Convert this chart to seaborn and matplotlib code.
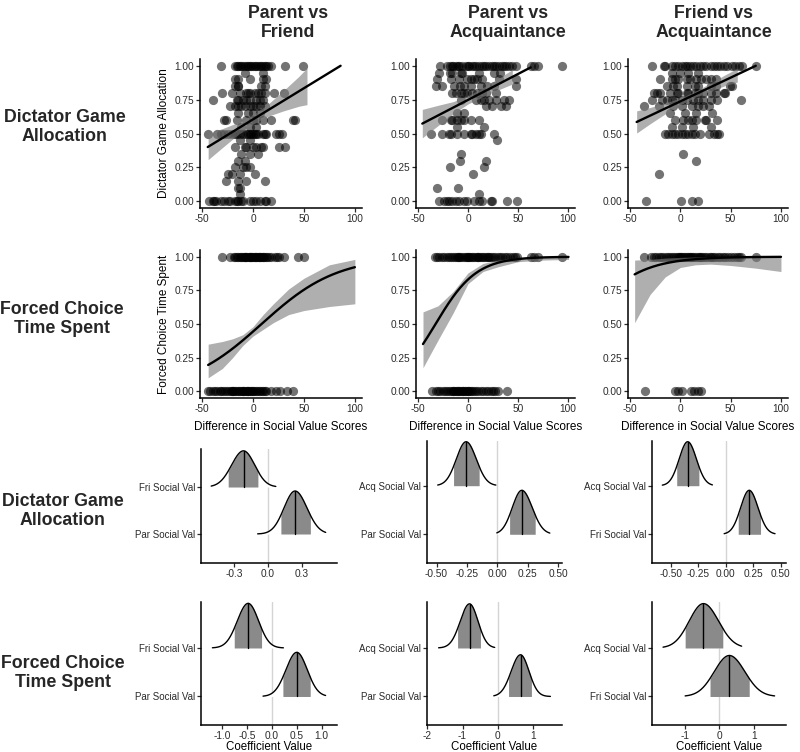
import numpy as np
import pandas as pd
import matplotlib
matplotlib.use("Agg")
import matplotlib.pyplot as plt
import seaborn as sns

sns.set_theme(style="ticks")
plt.rcParams['font.family'] = ['Liberation Sans', 'DejaVu Sans']

# ---------------- DATA ----------------
col_titles = ["Parent vs\nFriend", "Parent vs\nAcquaintance", "Friend vs\nAcquaintance"]
row_titles = ["Dictator Game\nAllocation", "Forced Choice\nTime Spent",
              "Dictator Game\nAllocation", "Forced Choice\nTime Spent"]

# Dictator game allocation vs difference in social value scores (points by allocation level)
dg_pf_points = {
    1.00: [-31, -18, -16, -15, -13, -11.5, -10, -8, -6, -5, -3, -1.6, 0, 1.6, 3, 5, 7, 8, 10, 11.5, 13, 15, 18, 31, 49],
    0.95: [-8, 10],
    0.90: [-18, -15, -3, 10, 13],
    0.85: [-18, -15, -15, 8, 11.5],
    0.80: [-30, -21, -13, -7, -5, -3, 1.6, 5, 8, 11.5, 21, 30],
    0.75: [-39, -16, -15, -10, -7, -3, 3, 7, 10],
    0.70: [-23, -18, -15, -11.5, -8, -3, 0, 3, 7, 11.5],
    0.65: [-15, -5, 0, 7],
    0.60: [-28, -26, -16, -7, 0, 3, 10, 18, 39, 41],
    0.55: [-11.5, -3, 3],
    0.50: [-44, -35, -31, -28, -25, -21, -18, -16, -13, -10, -7, -5, -3, -1.6, 0, 1.6, 3, 5, 10, 11.5, 13, 23, 26, 28],
    0.45: [-13, -3],
    0.40: [-18, -8, -7, 0, 3, 8, 10, 26, 31],
    0.35: [-11.5, -3, 5],
    0.30: [-15, -8],
    0.25: [-18, -10, -7, -3],
    0.20: [-25, -21, -13, 1.6],
    0.15: [-26, -15, -7, 11.5],
    0.10: [-15, -13],
    0.05: [-13],
    0.00: [-43, -39, -38, -36, -31, -28, -25, -23, -18, -16, -15, -11.5, -10, -3, 0, 3, 7, 11.5, 13, 18],
}
dg_pa_points = {
    1.00: [-28, -21, -18, -16, -15, -12, -10, -9, -6, -2, 0, 1, 4, 6, 8, 11, 14, 16, 18, 21, 24, 26, 28, 31, 34, 36, 38, 41, 44, 48, 63, 66, 70, 94],
    0.95: [-29, -18, -16, -7, -6, 11, 26, 32],
    0.90: [-31, -17, -9, -1, 3, 6, 9, 14, 31, 48],
    0.85: [-32, -26, -14, -8, -4, 3, 13, 19, 26, 48],
    0.80: [-16, -12, -7, -4, -1, 4, 9, 14, 18, 28],
    0.75: [-7, 8, 13, 16, 21, 28, 36, 41],
    0.70: [18, 24, 33, 38],
    0.65: [-11, -4],
    0.60: [-26, -17, -16, -11, -7, -4, 3, 11],
    0.55: [-11, 16],
    0.50: [-37, -26, -19, -17, -11, -4, 3, 4, 8, 11, 13, 26],
    0.45: [29],
    0.35: [-7],
    0.30: [-8, 18],
    0.25: [-18, 16],
    0.20: [5],
    0.10: [-31, -10],
    0.05: [11],
    0.00: [-29, -24, -21, -19, -16, -12, -9, -4, -1, 6, 11, 14, 23, 24, 39, 49],
}
dg_fa_points = {
    1.00: [-28, -16, -15, -8, -5, -2, 1.6, 5, 7, 10, 13, 16, 20, 23, 26, 30, 33, 36, 39, 43, 46, 51, 54, 58, 61, 75],
    0.95: [-8, 0, 8, 18],
    0.90: [-20, -8, -5, -2, 7, 10, 16, 21, 26, 30, 35],
    0.85: [-13, -7, -3, 7, 15, 18, 30, 35, 49, 51],
    0.80: [-26, -23, -20, -10, -3, -2, 7, 8, 15, 18, 23, 30, 35, 43, 44],
    0.75: [-28, -18, -13, -8, -5, 2, 7, 13, 18, 23, 30, 36, 60],
    0.70: [-36, -21, -7, 2, 12, 18, 23, 28],
    0.65: [-10, 5, 16, 31],
    0.60: [-5, 3, 8, 12, 16, 25, 26, 36],
    0.55: [-8, 2, 13, 30],
    0.50: [-15, -12, -8, -5, -2, 2, 5, 8, 12, 15, 20, 28, 33, 36, 38],
    0.35: [3],
    0.30: [16],
    0.20: [-21],
    0.00: [-34, 1, 12, 18],
}

# Linear fits (line end points) and confidence bands
dg_pf_line_x = [-44.4, 86.0]
dg_pf_line_y = [0.40, 1.00]
dg_pf_band_x = [-44, -30, -15, 0, 15, 30, 45, 53]
dg_pf_band_lo = [0.307, 0.396, 0.49, 0.569, 0.628, 0.667, 0.701, 0.713]
dg_pf_band_hi = [0.497, 0.536, 0.58, 0.639, 0.718, 0.817, 0.921, 0.983]

dg_pa_line_x = [-45.7, 62.7]
dg_pa_line_y = [0.573, 0.988]
dg_pa_band_x = [-45.7, -30, -15, 0, 15, 30, 44.3]
dg_pa_band_lo = [0.468, 0.558, 0.645, 0.718, 0.773, 0.821, 0.865]
dg_pa_band_hi = [0.678, 0.708, 0.735, 0.778, 0.839, 0.905, 0.971]

dg_fa_line_x = [-43.4, 75.0]
dg_fa_line_y = [0.585, 1.00]
dg_fa_band_x = [-43.4, -30, -15, 0, 15, 30, 45, 56.6]
dg_fa_band_lo = [0.503, 0.572, 0.645, 0.712, 0.768, 0.812, 0.855, 0.88]
dg_fa_band_hi = [0.667, 0.692, 0.725, 0.762, 0.812, 0.872, 0.935, 0.98]

# Forced choice (1 = chose first person, 0 = chose second)
fc_pf_one = [-30, -22.5, -19, -17.5, -16, -14.5, -13, -12, -10.5, -9, -8, -8, -7, -5.5, -4, -3, -3, -2, -0.5,
             0.5, 1.5, 2, 3, 4, 5.5, 6, 7, 8, 9.5, 10, 11, 12.5, 14, 16, 18, 21.5, 24, 26, 30, 44, 50]
fc_pf_zero = [-44, -42, -39, -37, -35, -32.5, -31, -29, -27, -25.5, -24, -22, -21, -20, -19.5, -18, -16.5, -15,
              -14, -12.5, -11, -10, -10, -8.5, -7, -6, -5, -4.5, -3, -2, -0.5, 0, 1, 2.5, 4, 5.5, 7, 8.5, 10,
              11.5, 13, 18, 23, 26.5, 33, 39.5]
fc_pa_one = [-33.5, -31, -29, -26.5, -24, -21, -19, -17.5, -15, -13, -11, -10, -9.5, -8, -6, -4, -2.5, -1, 0,
             0.5, 2, 3.5, 5, 7, 8.5, 10, 10, 12, 13.5, 15, 17, 19, 20, 21, 23, 25, 27, 29.5, 32, 34, 36.5, 39,
             42, 44.5, 47, 49, 62.5, 66, 70, 93.5]
fc_pa_zero = [-36, -32, -30, -28, -25.5, -23, -21, -19, -17, -15.5, -15, -14, -12.5, -11, -10, -9.5, -8, -6.5,
              -5, -5, -3.5, -2, -0.5, 0, 1, 2.5, 4, 6, 8, 10, 12.5, 15, 17.5, 20, 22.5, 25, 27, 29.5, 38.5]
fc_fa_one = [-36.5, -29, -26.5, -24, -21.5, -19, -17, -14.5, -12, -10, -8, -6, -4, -2.5, -1, 0, 0.5, 2, 3.5, 5,
             6.5, 8, 10, 10, 11.5, 13, 15, 17, 19, 20, 21, 23, 25, 27, 29.5, 30, 32, 34.5, 37, 39.5, 42, 44.5,
             47, 50, 53, 56, 58.5, 60.5, 75]
fc_fa_zero = [-35, -5.5, -2.5, 2, 11, 14, 17.5, 21]

# Logistic fits: intercept, slope, x range; confidence bands
fc_pf_coef = [-0.227, 0.027]
fc_pf_range = [-44, 100]
fc_pf_band_x = [-44, -30, -20, -10, 0, 10, 20, 35, 50, 75, 100]
fc_pf_band_lo = [0.10, 0.17, 0.25, 0.34, 0.41, 0.46, 0.51, 0.57, 0.60, 0.63, 0.65]
fc_pf_band_hi = [0.35, 0.37, 0.39, 0.42, 0.48, 0.57, 0.65, 0.76, 0.84, 0.94, 0.98]

fc_pa_coef = [1.59, 0.049]
fc_pa_range = [-45, 100.5]
fc_pa_band_x = [-45, -30, -15, 0, 15, 30, 50, 75, 100.5]
fc_pa_band_lo = [0.175, 0.38, 0.58, 0.80, 0.89, 0.925, 0.963, 0.975, 0.98]
fc_pa_band_hi = [0.59, 0.635, 0.74, 0.88, 0.95, 0.975, 0.993, 0.998, 1.0]

fc_fa_coef = [3.48, 0.035]
fc_fa_range = [-45.4, 100]
fc_fa_band_x = [-45.4, -30, -15, 0, 15, 30, 50, 75, 100]
fc_fa_band_lo = [0.51, 0.72, 0.85, 0.92, 0.94, 0.945, 0.935, 0.915, 0.89]
fc_fa_band_hi = [0.975, 0.98, 0.99, 0.995, 0.998, 0.999, 1.0, 1.0, 1.0]

# Posterior coefficient distributions (index 0 = lower row, index 1 = upper row)
rdg_pf_labels = ["Par Social Val", "Fri Social Val"]
rdg_pf_median = [0.24, -0.215]
rdg_pf_inner = [(0.115, 0.375), (-0.35, -0.088)]
rdg_pf_outer = [(-0.09, 0.51), (-0.50, 0.07)]
rdg_pf_height = [0.915, 0.77]

rdg_pa_labels = ["Par Social Val", "Acq Social Val"]
rdg_pa_median = [0.20, -0.257]
rdg_pa_inner = [(0.10, 0.31), (-0.36, -0.15)]
rdg_pa_outer = [(-0.005, 0.43), (-0.49, -0.013)]
rdg_pa_height = [0.905, 0.905]

rdg_fa_labels = ["Fri Social Val", "Acq Social Val"]
rdg_fa_median = [0.215, -0.345]
rdg_fa_inner = [(0.115, 0.318), (-0.445, -0.243)]
rdg_fa_outer = [(-0.013, 0.45), (-0.576, -0.12)]
rdg_fa_height = [0.905, 0.905]

rfc_pf_labels = ["Par Social Val", "Fri Social Val"]
rfc_pf_median = [0.50, -0.48]
rfc_pf_inner = [(0.22, 0.77), (-0.76, -0.21)]
rfc_pf_outer = [(-0.18, 1.08), (-1.20, 0.23)]
rfc_pf_height = [0.91, 0.92]

rfc_pa_labels = ["Par Social Val", "Acq Social Val"]
rfc_pa_median = [0.65, -0.80]
rfc_pa_inner = [(0.31, 0.96), (-1.14, -0.49)]
rfc_pa_outer = [(-0.11, 1.50), (-1.68, -0.085)]
rfc_pa_height = [0.86, 0.91]

rfc_fa_labels = ["Fri Social Val", "Acq Social Val"]
rfc_fa_median = [0.29, -0.46]
rfc_fa_inner = [(-0.27, 0.865), (-0.99, 0.10)]
rfc_fa_outer = [(-0.99, 1.60), (-1.63, 0.645)]
rfc_fa_height = [0.845, 0.915]

scatter_xticks = [-50, 0, 50, 100]
prob_yticks = [0.0, 0.25, 0.5, 0.75, 1.0]
ridge_xticks = [
    [[-0.3, 0.0, 0.3], [-0.5, -0.25, 0.0, 0.25, 0.5], [-0.5, -0.25, 0.0, 0.25, 0.5]],
    [[-1.0, -0.5, 0.0, 0.5, 1.0], [-2, -1, 0, 1], [-1, 0, 1]],
]
ridge_xticklabels = [
    [["-0.3", "0.0", "0.3"], ["-0.50", "-0.25", "0.00", "0.25", "0.50"], ["-0.50", "-0.25", "0.00", "0.25", "0.50"]],
    [["-1.0", "-0.5", "0.0", "0.5", "1.0"], ["-2", "-1", "0", "1"], ["-1", "0", "1"]],
]

# ---------------- LAYOUT ----------------
W, H = 800, 752
fig = plt.figure(figsize=(W / 100, H / 100), dpi=100)
TXT = '#2b2b2b'


def add_ax(l, t, r, b):
    return fig.add_axes([l / W, 1 - b / H, (r - l) / W, (b - t) / H])


def style_ax(ax):
    for s in ['top', 'right']:
        ax.spines[s].set_visible(False)
    for s in ['left', 'bottom']:
        ax.spines[s].set_linewidth(1.1)
        ax.spines[s].set_color('black')
    ax.tick_params(axis='both', length=3, width=0.9, color=TXT, labelsize=7.3, labelcolor=TXT, pad=1.2)
    ax.set_xlabel('')
    ax.set_ylabel('')
    ax.grid(False)


scatter_cols = [(200, 362), (416, 575), (628, 788)]
ridge_cols = [(201, 337), (427, 562), (652, 786)]

dg_sets = [
    (dg_pf_points, dg_pf_line_x, dg_pf_line_y, dg_pf_band_x, dg_pf_band_lo, dg_pf_band_hi),
    (dg_pa_points, dg_pa_line_x, dg_pa_line_y, dg_pa_band_x, dg_pa_band_lo, dg_pa_band_hi),
    (dg_fa_points, dg_fa_line_x, dg_fa_line_y, dg_fa_band_x, dg_fa_band_lo, dg_fa_band_hi),
]
fc_sets = [
    (fc_pf_one, fc_pf_zero, fc_pf_coef, fc_pf_range, fc_pf_band_x, fc_pf_band_lo, fc_pf_band_hi),
    (fc_pa_one, fc_pa_zero, fc_pa_coef, fc_pa_range, fc_pa_band_x, fc_pa_band_lo, fc_pa_band_hi),
    (fc_fa_one, fc_fa_zero, fc_fa_coef, fc_fa_range, fc_fa_band_x, fc_fa_band_lo, fc_fa_band_hi),
]


def finish_scatter(ax):
    ax.set_xlim(-52, 107)
    ax.set_ylim(-0.05, 1.05)
    ax.set_xticks(scatter_xticks)
    ax.set_xticklabels([str(v) for v in scatter_xticks])
    ax.set_yticks(prob_yticks)
    ax.set_yticklabels([f"{v:.2f}" for v in prob_yticks])
    style_ax(ax)


# Row 1: dictator game
for j, (pts, lx, ly, bx, blo, bhi) in enumerate(dg_sets):
    l, r = scatter_cols[j]
    ax = add_ax(l, 59, r, 208)
    df = pd.DataFrame([(x, y) for y, xs in pts.items() for x in xs], columns=['x', 'y'])
    sns.scatterplot(data=df, x='x', y='y', ax=ax, color='black', alpha=0.55, s=44,
                    linewidth=0, zorder=2)
    ax.fill_between(bx, blo, bhi, color='#7a7a7a', alpha=0.6, linewidth=0, zorder=3)
    sns.lineplot(x=lx, y=ly, ax=ax, color='black', linewidth=1.7, zorder=4)
    finish_scatter(ax)
    if j == 0:
        ax.set_ylabel("Dictator Game Allocation", fontsize=8.5, color='black')
        ax.yaxis.set_label_coords(-(200 - 170) / 162, 0.5)

# Row 2: forced choice
for j, (one, zero, coef, rng, bx, blo, bhi) in enumerate(fc_sets):
    l, r = scatter_cols[j]
    ax = add_ax(l, 250, r, 398)
    df = pd.DataFrame({'x': list(one) + list(zero),
                       'y': [1.0] * len(one) + [0.0] * len(zero)})
    sns.scatterplot(data=df, x='x', y='y', ax=ax, color='black', alpha=0.55, s=44,
                    linewidth=0, zorder=2)
    ax.fill_between(bx, blo, bhi, color='#7a7a7a', alpha=0.6, linewidth=0, zorder=3)
    cx = np.linspace(rng[0], rng[1], 200)
    cy = 1.0 / (1.0 + np.exp(-(coef[0] + coef[1] * cx)))
    sns.lineplot(x=cx, y=cy, ax=ax, color='black', linewidth=1.7, zorder=4)
    finish_scatter(ax)
    ax.set_xlabel("Difference in Social Value Scores", fontsize=8.5, color='black')
    ax.xaxis.set_label_coords(0.5, -(421 - 398) / 148)
    if j == 0:
        ax.set_ylabel("Forced Choice Time Spent", fontsize=8.5, color='black')
        ax.yaxis.set_label_coords(-(200 - 170) / 162, 0.5)

ridge_sets = [
    [(rdg_pf_labels, rdg_pf_median, rdg_pf_inner, rdg_pf_outer, rdg_pf_height),
     (rdg_pa_labels, rdg_pa_median, rdg_pa_inner, rdg_pa_outer, rdg_pa_height),
     (rdg_fa_labels, rdg_fa_median, rdg_fa_inner, rdg_fa_outer, rdg_fa_height)],
    [(rfc_pf_labels, rfc_pf_median, rfc_pf_inner, rfc_pf_outer, rfc_pf_height),
     (rfc_pa_labels, rfc_pa_median, rfc_pa_inner, rfc_pa_outer, rfc_pa_height),
     (rfc_fa_labels, rfc_fa_median, rfc_fa_inner, rfc_fa_outer, rfc_fa_height)],
]
ridge_rows = [
    # (top, bottom, ylim) per column
    [(449, 563, (0.383, 2.809)), (441, 563, (0.409, 2.92)), (441, 563, (0.409, 2.92))],
    [(602, 725, (0.412, 2.948)), (602, 725, (0.412, 2.948)), (602, 725, (0.412, 2.948))],
]
ridge_xlims = [
    [(-0.59, 0.61), (-0.578, 0.53), (-0.67, 0.55)],
    [(-1.43, 1.31), (-2.01, 1.83), (-1.95, 1.93)],
]


def density(xs, med, lo, hi, h):
    sdl = (med - lo) / 1.2816
    sdr = (hi - med) / 1.2816
    sd = np.where(xs < med, sdl, sdr)
    return h * np.exp(-0.5 * ((xs - med) / sd) ** 2)


for i in range(2):
    for j in range(3):
        labels, med, inner, outer, hgt = ridge_sets[i][j]
        top, bot, ylim = ridge_rows[i][j]
        l, r = ridge_cols[j]
        ax = add_ax(l, top, r, bot)
        ax.axvline(0, color='#d4d4d4', linewidth=1.0, zorder=1)
        for k in range(len(labels)):
            base = k + 1
            xs = np.linspace(outer[k][0], outer[k][1], 300)
            d = density(xs, med[k], inner[k][0], inner[k][1], hgt[k])
            ax.fill_between(xs, base, base + d, color='white', linewidth=0, zorder=2)
            xi = np.linspace(inner[k][0], inner[k][1], 200)
            di = density(xi, med[k], inner[k][0], inner[k][1], hgt[k])
            ax.fill_between(xi, base, base + di, color='#8a8a8a', linewidth=0, zorder=3)
            sns.lineplot(x=xs, y=base + d, ax=ax, color='black', linewidth=1.0, zorder=4)
            ax.plot([med[k], med[k]], [base, base + hgt[k]], color='black', linewidth=1.0, zorder=4)
        ax.set_xlim(*ridge_xlims[i][j])
        ax.set_ylim(*ylim)
        ax.set_yticks([1, 2])
        ax.set_yticklabels(labels)
        ax.set_xticks(ridge_xticks[i][j])
        ax.set_xticklabels(ridge_xticklabels[i][j])
        style_ax(ax)
        ax.tick_params(axis='y', labelsize=7.0)
        if i == 1:
            ax.set_xlabel("Coefficient Value", fontsize=8.3, color='black')
            ax.xaxis.set_label_coords(0.5, -(740.5 - 725) / 123)

# Column and row titles
col_pos = [(288, 23), (508, 23), (714, 23)]
for (x, y), t in zip(col_pos, col_titles):
    fig.text(x / W, 1 - y / H, t, ha='center', va='center', fontsize=12.8,
             fontweight='bold', linespacing=1.2)
row_pos = [(65, 127), (62, 319), (63, 511), (63, 673)]
for (x, y), t in zip(row_pos, row_titles):
    fig.text(x / W, 1 - y / H, t, ha='center', va='center', fontsize=12.8,
             fontweight='bold', linespacing=1.2)

fig.savefig("out.png", dpi=100, facecolor='white')
